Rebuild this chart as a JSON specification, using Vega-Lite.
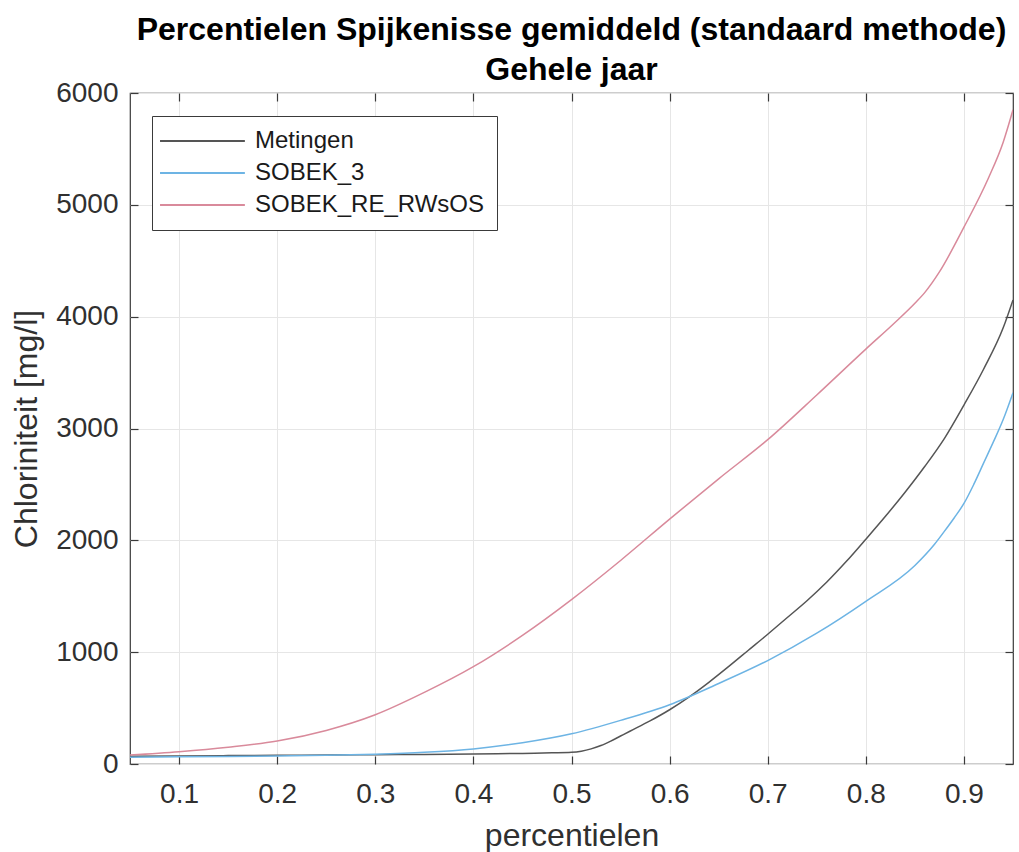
{
  "$schema": "https://vega.github.io/schema/vega-lite/v6.json",
  "width": 883,
  "height": 671,
  "autosize": {"type": "none"},
  "padding": {"left": 130, "top": 93, "right": 6, "bottom": 88},
  "background": "white",
  "title": {
    "text": ["Percentielen Spijkenisse gemiddeld (standaard methode)", "Gehele jaar"],
    "font": "Liberation Sans",
    "fontSize": 32,
    "fontWeight": "bold",
    "color": "#000000",
    "anchor": "middle",
    "lineHeight": 40,
    "offset": -8
  },
  "config": {
    "view": {"stroke": "#3a3a3a", "strokeWidth": 1.2},
    "axis": {
      "labelFont": "Liberation Sans",
      "titleFont": "Liberation Sans",
      "labelFontSize": 28,
      "titleFontSize": 32,
      "labelColor": "#303030",
      "titleColor": "#303030",
      "titleFontWeight": "normal",
      "domain": false,
      "tickSize": -8,
      "tickColor": "#3a3a3a",
      "tickWidth": 1.2,
      "gridColor": "#e6e6e6",
      "gridWidth": 1
    },
    "legend": {
      "orient": "none",
      "legendX": 22,
      "legendY": 23,
      "strokeColor": "#3a3a3a",
      "fillColor": "white",
      "padding": 13,
      "labelFont": "Liberation Sans",
      "labelFontSize": 24,
      "labelColor": "#1a1a1a",
      "labelLimit": 0,
      "rowPadding": 8
    }
  },
  "datasets": {
    "curves": [
      {"p": 0.05, "v": 70, "serie": "Metingen"},
      {"p": 0.1, "v": 72, "serie": "Metingen"},
      {"p": 0.15, "v": 75, "serie": "Metingen"},
      {"p": 0.2, "v": 78, "serie": "Metingen"},
      {"p": 0.25, "v": 80, "serie": "Metingen"},
      {"p": 0.3, "v": 83, "serie": "Metingen"},
      {"p": 0.35, "v": 86, "serie": "Metingen"},
      {"p": 0.4, "v": 90, "serie": "Metingen"},
      {"p": 0.45, "v": 95, "serie": "Metingen"},
      {"p": 0.48, "v": 100, "serie": "Metingen"},
      {"p": 0.5, "v": 105, "serie": "Metingen"},
      {"p": 0.51, "v": 115, "serie": "Metingen"},
      {"p": 0.52, "v": 135, "serie": "Metingen"},
      {"p": 0.53, "v": 165, "serie": "Metingen"},
      {"p": 0.54, "v": 205, "serie": "Metingen"},
      {"p": 0.55, "v": 250, "serie": "Metingen"},
      {"p": 0.56, "v": 295, "serie": "Metingen"},
      {"p": 0.58, "v": 385, "serie": "Metingen"},
      {"p": 0.6, "v": 485, "serie": "Metingen"},
      {"p": 0.62, "v": 600, "serie": "Metingen"},
      {"p": 0.64, "v": 730, "serie": "Metingen"},
      {"p": 0.66, "v": 870, "serie": "Metingen"},
      {"p": 0.68, "v": 1015, "serie": "Metingen"},
      {"p": 0.7, "v": 1160, "serie": "Metingen"},
      {"p": 0.72, "v": 1310, "serie": "Metingen"},
      {"p": 0.74, "v": 1460, "serie": "Metingen"},
      {"p": 0.76, "v": 1625, "serie": "Metingen"},
      {"p": 0.78, "v": 1810, "serie": "Metingen"},
      {"p": 0.8, "v": 2010, "serie": "Metingen"},
      {"p": 0.82, "v": 2215, "serie": "Metingen"},
      {"p": 0.84, "v": 2430, "serie": "Metingen"},
      {"p": 0.86, "v": 2660, "serie": "Metingen"},
      {"p": 0.88, "v": 2910, "serie": "Metingen"},
      {"p": 0.9, "v": 3210, "serie": "Metingen"},
      {"p": 0.92, "v": 3530, "serie": "Metingen"},
      {"p": 0.94, "v": 3900, "serie": "Metingen"},
      {"p": 0.95, "v": 4150, "serie": "Metingen"},
      {"p": 0.05, "v": 60, "serie": "SOBEK_3"},
      {"p": 0.1, "v": 65, "serie": "SOBEK_3"},
      {"p": 0.15, "v": 68, "serie": "SOBEK_3"},
      {"p": 0.2, "v": 72, "serie": "SOBEK_3"},
      {"p": 0.25, "v": 78, "serie": "SOBEK_3"},
      {"p": 0.3, "v": 88, "serie": "SOBEK_3"},
      {"p": 0.35, "v": 105, "serie": "SOBEK_3"},
      {"p": 0.4, "v": 135, "serie": "SOBEK_3"},
      {"p": 0.45, "v": 190, "serie": "SOBEK_3"},
      {"p": 0.5, "v": 270, "serie": "SOBEK_3"},
      {"p": 0.55, "v": 390, "serie": "SOBEK_3"},
      {"p": 0.6, "v": 530, "serie": "SOBEK_3"},
      {"p": 0.65, "v": 720, "serie": "SOBEK_3"},
      {"p": 0.7, "v": 925, "serie": "SOBEK_3"},
      {"p": 0.75, "v": 1170, "serie": "SOBEK_3"},
      {"p": 0.8, "v": 1455, "serie": "SOBEK_3"},
      {"p": 0.85, "v": 1775, "serie": "SOBEK_3"},
      {"p": 0.87, "v": 1965, "serie": "SOBEK_3"},
      {"p": 0.88, "v": 2080, "serie": "SOBEK_3"},
      {"p": 0.89, "v": 2200, "serie": "SOBEK_3"},
      {"p": 0.9, "v": 2330, "serie": "SOBEK_3"},
      {"p": 0.91, "v": 2500, "serie": "SOBEK_3"},
      {"p": 0.92, "v": 2690, "serie": "SOBEK_3"},
      {"p": 0.93, "v": 2880, "serie": "SOBEK_3"},
      {"p": 0.94, "v": 3080, "serie": "SOBEK_3"},
      {"p": 0.95, "v": 3320, "serie": "SOBEK_3"},
      {"p": 0.05, "v": 80, "serie": "SOBEK_RE_RWsOS"},
      {"p": 0.1, "v": 110, "serie": "SOBEK_RE_RWsOS"},
      {"p": 0.15, "v": 150, "serie": "SOBEK_RE_RWsOS"},
      {"p": 0.2, "v": 205, "serie": "SOBEK_RE_RWsOS"},
      {"p": 0.25, "v": 300, "serie": "SOBEK_RE_RWsOS"},
      {"p": 0.3, "v": 440, "serie": "SOBEK_RE_RWsOS"},
      {"p": 0.35, "v": 640, "serie": "SOBEK_RE_RWsOS"},
      {"p": 0.4, "v": 870, "serie": "SOBEK_RE_RWsOS"},
      {"p": 0.45, "v": 1150, "serie": "SOBEK_RE_RWsOS"},
      {"p": 0.5, "v": 1470, "serie": "SOBEK_RE_RWsOS"},
      {"p": 0.55, "v": 1820, "serie": "SOBEK_RE_RWsOS"},
      {"p": 0.6, "v": 2190, "serie": "SOBEK_RE_RWsOS"},
      {"p": 0.65, "v": 2550, "serie": "SOBEK_RE_RWsOS"},
      {"p": 0.7, "v": 2900, "serie": "SOBEK_RE_RWsOS"},
      {"p": 0.75, "v": 3300, "serie": "SOBEK_RE_RWsOS"},
      {"p": 0.8, "v": 3710, "serie": "SOBEK_RE_RWsOS"},
      {"p": 0.83, "v": 3950, "serie": "SOBEK_RE_RWsOS"},
      {"p": 0.85, "v": 4120, "serie": "SOBEK_RE_RWsOS"},
      {"p": 0.86, "v": 4215, "serie": "SOBEK_RE_RWsOS"},
      {"p": 0.875, "v": 4400, "serie": "SOBEK_RE_RWsOS"},
      {"p": 0.9, "v": 4800, "serie": "SOBEK_RE_RWsOS"},
      {"p": 0.925, "v": 5240, "serie": "SOBEK_RE_RWsOS"},
      {"p": 0.94, "v": 5560, "serie": "SOBEK_RE_RWsOS"},
      {"p": 0.95, "v": 5850, "serie": "SOBEK_RE_RWsOS"}
    ]
  },
  "data": {"name": "curves"},
  "layer": [
    {
      "mark": {"type": "line", "strokeWidth": 1.5, "interpolate": "monotone", "clip": true},
      "encoding": {
        "x": {
          "field": "p", "type": "quantitative",
          "scale": {"domain": [0.05, 0.95], "nice": false, "zero": false},
          "axis": {"title": "percentielen", "values": [0.1, 0.2, 0.3, 0.4, 0.5, 0.6, 0.7, 0.8, 0.9], "format": ".1f", "labelPadding": 24, "titlePadding": 12}
        },
        "y": {
          "field": "v", "type": "quantitative",
          "scale": {"domain": [0, 6000], "nice": false},
          "axis": {"title": "Chloriniteit [mg/l]", "values": [0, 1000, 2000, 3000, 4000, 5000, 6000], "format": "d", "labelPadding": 20, "titlePadding": 12}
        },
        "color": {
          "field": "serie", "type": "nominal",
          "scale": {"domain": ["Metingen", "SOBEK_3", "SOBEK_RE_RWsOS"], "range": ["#555555", "#6db4e4", "#d98a9b"]},
          "legend": {"title": null, "symbolType": "M-2.4,0H9.6", "symbolSize": 200, "symbolStrokeWidth": 1.8, "labelOffset": 66}
        }
      }
    },
    {
      "mark": {"type": "line", "opacity": 0},
      "encoding": {
        "x": {"field": "p", "type": "quantitative", "axis": {"orient": "top", "labels": false, "title": null, "grid": false, "values": [0.1, 0.2, 0.3, 0.4, 0.5, 0.6, 0.7, 0.8, 0.9]}},
        "y": {"field": "v", "type": "quantitative", "axis": {"orient": "right", "labels": false, "title": null, "grid": false, "values": [0, 1000, 2000, 3000, 4000, 5000, 6000]}},
        "detail": {"field": "serie"}
      }
    }
  ],
  "resolve": {"axis": {"x": "independent", "y": "independent"}}
}
